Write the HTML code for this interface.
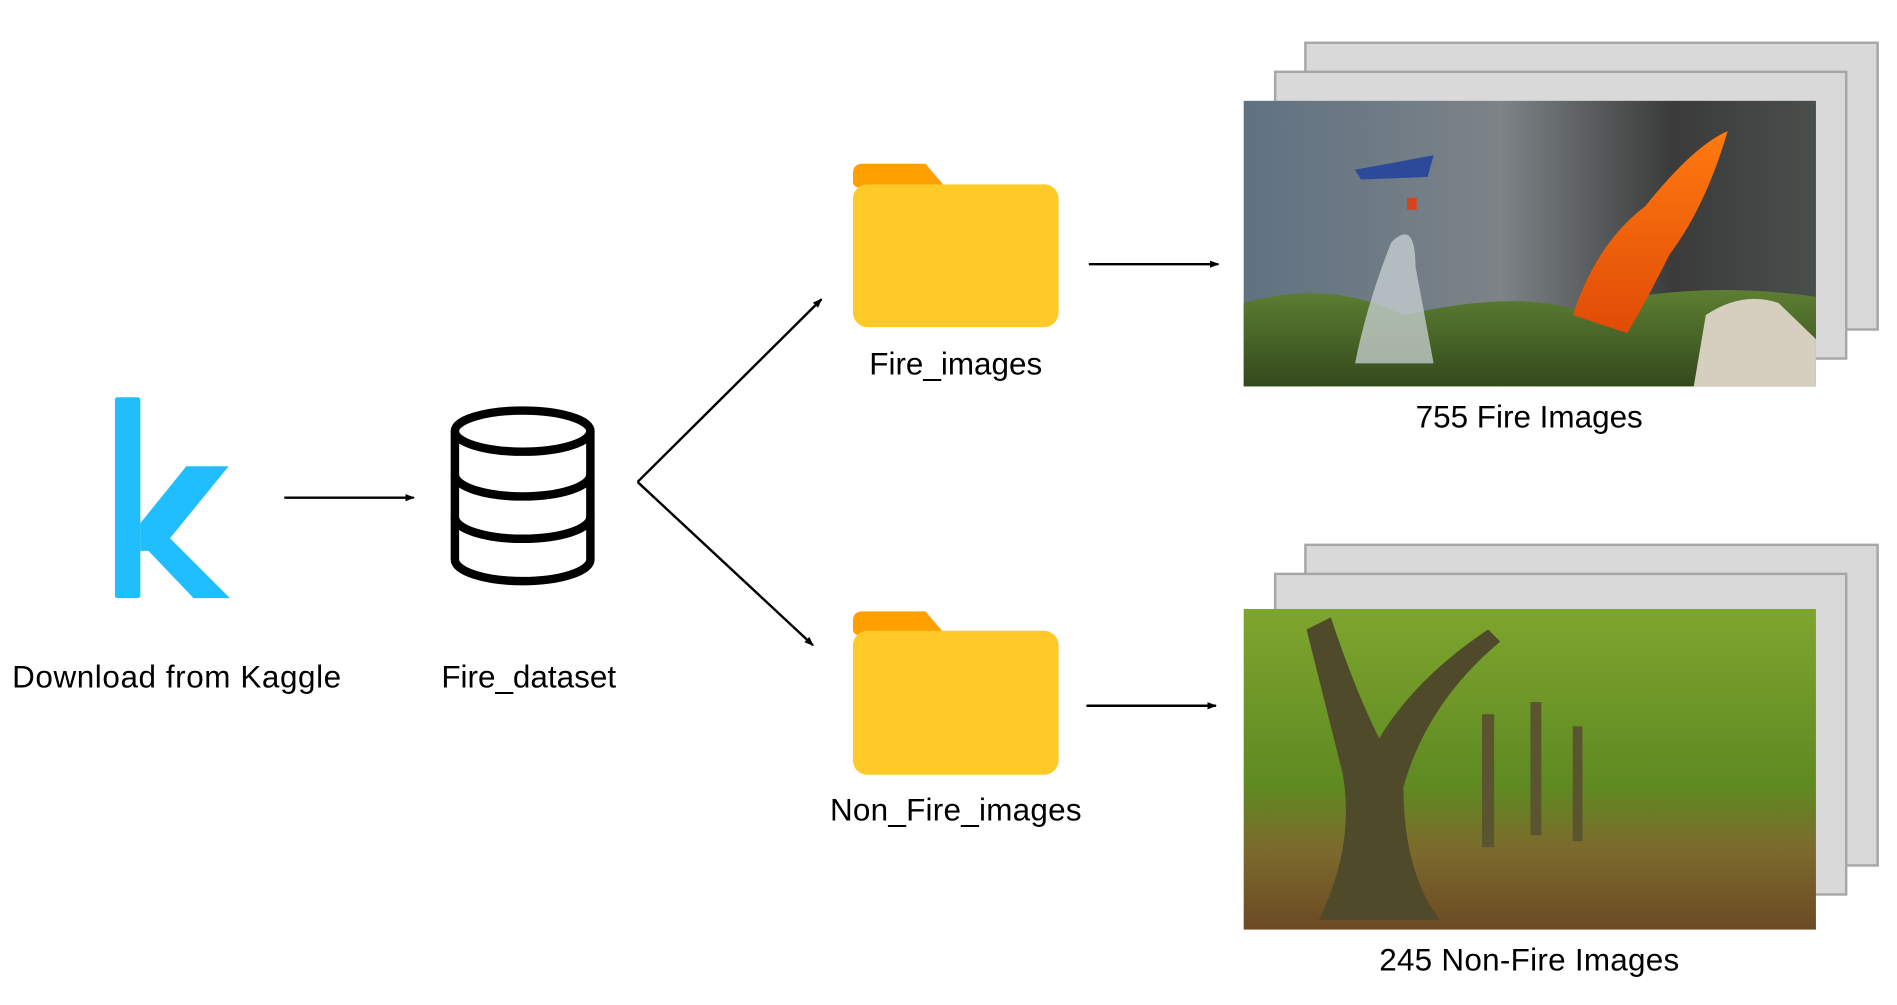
<!DOCTYPE html>
<html><head><meta charset="utf-8"><style>html,body{margin:0;padding:0;background:#fff}svg{display:block}</style></head>
<body>
<svg width="1897" height="1005" viewBox="0 0 1568 830" xmlns="http://www.w3.org/2000/svg" font-family="Liberation Sans, sans-serif">
<defs>
<marker id="a" markerWidth="8" markerHeight="8" refX="7" refY="4" orient="auto" markerUnits="userSpaceOnUse"><path d="M0,1 L8,4 L0,7 z" fill="#000"/></marker>
<linearGradient id="sky" x1="0" y1="0" x2="1" y2="0"><stop offset="0" stop-color="#5f7282"/><stop offset="0.45" stop-color="#7d8387"/><stop offset="0.75" stop-color="#3a3b3a"/><stop offset="1" stop-color="#4a4f4c"/></linearGradient>
<linearGradient id="grd" x1="0" y1="0" x2="0" y2="1"><stop offset="0" stop-color="#5d7f32"/><stop offset="1" stop-color="#33491c"/></linearGradient>
<linearGradient id="fl" x1="0" y1="0" x2="0" y2="1"><stop offset="0" stop-color="#ff7a10"/><stop offset="1" stop-color="#e04b06"/></linearGradient>
<linearGradient id="fo" x1="0" y1="0" x2="0" y2="1"><stop offset="0" stop-color="#7ea52e"/><stop offset="0.55" stop-color="#5f8a22"/><stop offset="0.75" stop-color="#7c6a2c"/><stop offset="1" stop-color="#6b4a24"/></linearGradient>
</defs>
<!-- kaggle k -->
<rect x="95" y="328" width="21" height="166" rx="2" fill="#20BEFF"/>
<polygon points="116,432 154,385 189,385 132,455 116,455" fill="#20BEFF"/>
<polygon points="116,448 132,436 190,494 160,494" fill="#20BEFF"/>
<line x1="235" y1="411" x2="342" y2="411" stroke="#000" stroke-width="2" marker-end="url(#a)"/>
<!-- database -->
<g fill="none" stroke="#000" stroke-width="7">
<path d="M376,356 L376,462 A56,18 0 0 0 488,462 L488,356"/>
<ellipse cx="432" cy="356" rx="56" ry="17"/>
<path d="M376,392 A56,18 0 0 0 488,392"/>
<path d="M376,427 A56,18 0 0 0 488,427"/>
</g>
<text x="146" y="568" font-size="26" text-anchor="middle" textLength="272">Download from Kaggle</text>
<text x="437" y="568" font-size="26" text-anchor="middle">Fire_dataset</text>
<line x1="527" y1="398" x2="679" y2="247" stroke="#000" stroke-width="2" marker-end="url(#a)"/>
<line x1="527" y1="398" x2="672" y2="533" stroke="#000" stroke-width="2" marker-end="url(#a)"/>
<!-- folders -->
<g>
<path d="M713,135 L765,135 L782,155 L713,155 Q705,155 705,150 L705,143 Q705,135 713,135 z" fill="#FFA000"/>
<rect x="705" y="152" width="170" height="118" rx="12" fill="#FFCA28"/>
<path d="M713,505 L765,505 L782,525 L713,525 Q705,525 705,520 L705,513 Q705,505 713,505 z" fill="#FFA000"/>
<rect x="705" y="521" width="170" height="119" rx="12" fill="#FFCA28"/>
</g>
<text x="790" y="309" font-size="26" text-anchor="middle">Fire_images</text>
<text x="790" y="678" font-size="26" text-anchor="middle" textLength="208">Non_Fire_images</text>
<line x1="900" y1="218" x2="1007" y2="218" stroke="#000" stroke-width="2" marker-end="url(#a)"/>
<line x1="898" y1="583" x2="1005" y2="583" stroke="#000" stroke-width="2" marker-end="url(#a)"/>
<!-- stacks top -->
<rect x="1079" y="35" width="473" height="237" fill="#d9d9d9" stroke="#a6a6a6" stroke-width="2"/>
<rect x="1054" y="59" width="472" height="237" fill="#d9d9d9" stroke="#a6a6a6" stroke-width="2"/>
<rect x="1028" y="83" width="473" height="236" fill="url(#sky)"/>
<path d="M1028,250 Q1100,230 1160,260 Q1250,240 1300,255 Q1400,230 1501,245 L1501,319 L1028,319 z" fill="url(#grd)"/>
<path d="M1150,200 Q1170,180 1170,220 L1185,300 L1120,300 Q1130,250 1150,200 z" fill="#c9d2d4" opacity="0.75"/>
<path d="M1300,260 Q1320,200 1360,170 Q1400,120 1428,108 Q1410,170 1380,210 Q1360,250 1345,275 z" fill="url(#fl)"/>
<path d="M1410,260 Q1440,240 1470,250 L1501,280 L1501,319 L1400,319 z" fill="#d6cfc0"/>
<path d="M1120,140 L1185,128 L1180,146 L1125,148 z" fill="#2d4a9a"/>
<rect x="1163" y="163" width="8" height="10" fill="#d8431a"/>
<!-- stacks bottom -->
<rect x="1079" y="450" width="473" height="265" fill="#d9d9d9" stroke="#a6a6a6" stroke-width="2"/>
<rect x="1054" y="474" width="472" height="265" fill="#d9d9d9" stroke="#a6a6a6" stroke-width="2"/>
<rect x="1028" y="503" width="473" height="265" fill="url(#fo)"/>
<path d="M1090,760 Q1120,700 1110,640 Q1095,580 1080,520 L1100,510 Q1120,570 1140,610 Q1170,560 1230,520 L1240,530 Q1180,580 1160,650 Q1160,720 1190,760 z" fill="#4f4a2a"/>
<rect x="1225" y="590" width="10" height="110" fill="#5a5530"/>
<rect x="1265" y="580" width="9" height="110" fill="#5a5530"/>
<rect x="1300" y="600" width="8" height="95" fill="#5a5530"/>
<text x="1264" y="353" font-size="26" text-anchor="middle">755 Fire Images</text>
<text x="1264" y="802" font-size="26" text-anchor="middle" textLength="248">245 Non-Fire Images</text>
</svg>
</body></html>
